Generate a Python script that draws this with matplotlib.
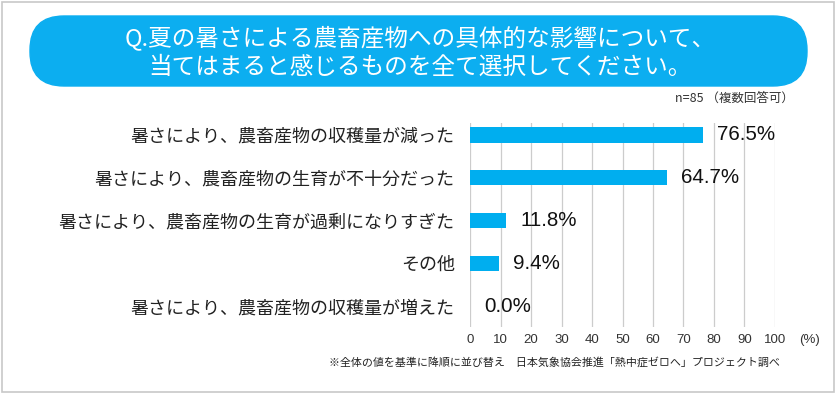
import matplotlib
matplotlib.use("Agg")
import matplotlib.pyplot as plt
from matplotlib.patches import FancyBboxPatch, Rectangle

plt.rcParams['font.family'] = ['Noto Sans CJK JP', 'DejaVu Sans']

categories = [
    "暑さにより、農畜産物の収穫量が減った",
    "暑さにより、農畜産物の生育が不十分だった",
    "暑さにより、農畜産物の生育が過剰になりすぎた",
    "その他",
    "暑さにより、農畜産物の収穫量が増えた",
]
values = [76.5, 64.7, 11.8, 9.4, 0.0]
xticks = [0, 10, 20, 30, 40, 50, 60, 70, 80, 90, 100]
title_lines = ["Q.夏の暑さによる農畜産物への具体的な影響について、",
               "当てはまると感じるものを全て選択してください。"]
note_n = "n=85 （複数回答可）"
footnote = "※全体の値を基準に降順に並び替え　日本気象協会推進「熱中症ゼロへ」プロジェクト調べ"

W, H = 836, 394
fig = plt.figure(figsize=(W / 100, H / 100), dpi=100)
fig.patch.set_facecolor("white")

deco = fig.add_axes([0, 0, 1, 1])
deco.set_xlim(0, W)
deco.set_ylim(H, 0)
deco.axis("off")
deco.add_patch(Rectangle((2, 2), W - 4, H - 4, facecolor="none",
                         edgecolor="#c8c8c8", linewidth=1.2))
bx0, bx1, by0, by1 = 30, 807, 16, 86
deco.add_patch(FancyBboxPatch((bx0, by0), bx1 - bx0, by1 - by0,
                              boxstyle="round,pad=0,rounding_size=34",
                              facecolor="#0caef0", edgecolor="#0caef0", linewidth=1))
deco.text(420, 38, title_lines[0], ha="center", va="center", color="white", fontsize=17)
deco.text(420, 67, title_lines[1], ha="center", va="center", color="white", fontsize=17)
deco.text(794, 98, note_n, ha="right", va="center", color="#333333", fontsize=9)
deco.text(780, 362, footnote, ha="right", va="center", fontsize=7.9, color="#222222")

ax = fig.add_axes([470 / W, 1 - 327 / H, 305 / W, (327 - 123) / H])
ypos = list(range(len(categories)))
ax.barh(ypos, values, height=0.36, color="#00aeef", zorder=2)
ax.set_xlim(0, 100)
ax.set_ylim(4.49, -0.28)
for x in xticks:
    ax.axvline(x, color="#cccccc", linewidth=0.9, zorder=1)
for s in ax.spines.values():
    s.set_visible(False)
ax.set_xticks(xticks)
ax.set_xticklabels([str(t) for t in xticks], fontsize=9.5, color="#333333",
                   family=['Liberation Sans', 'DejaVu Sans'])
ax.tick_params(axis="x", length=0, pad=5)
ax.set_yticks(ypos)
ax.set_yticklabels(categories, fontsize=13, color="#222222")
ax.tick_params(axis="y", length=0, pad=11)
ax.patch.set_alpha(0)
ax.annotate("(%)", xy=(1.0, 0), xycoords="axes fraction", xytext=(25, -5),
            textcoords="offset points", ha="center", va="top", fontsize=9.5,
            color="#333333", family=['Liberation Sans', 'DejaVu Sans'])

for y, v in zip(ypos, values):
    ax.text(v + 4.6, y, f"{v:.1f}%", va="center", ha="left", fontsize=14.8,
            color="#111111", family=['Liberation Sans', 'DejaVu Sans'])

fig.savefig("out.png", dpi=100)
